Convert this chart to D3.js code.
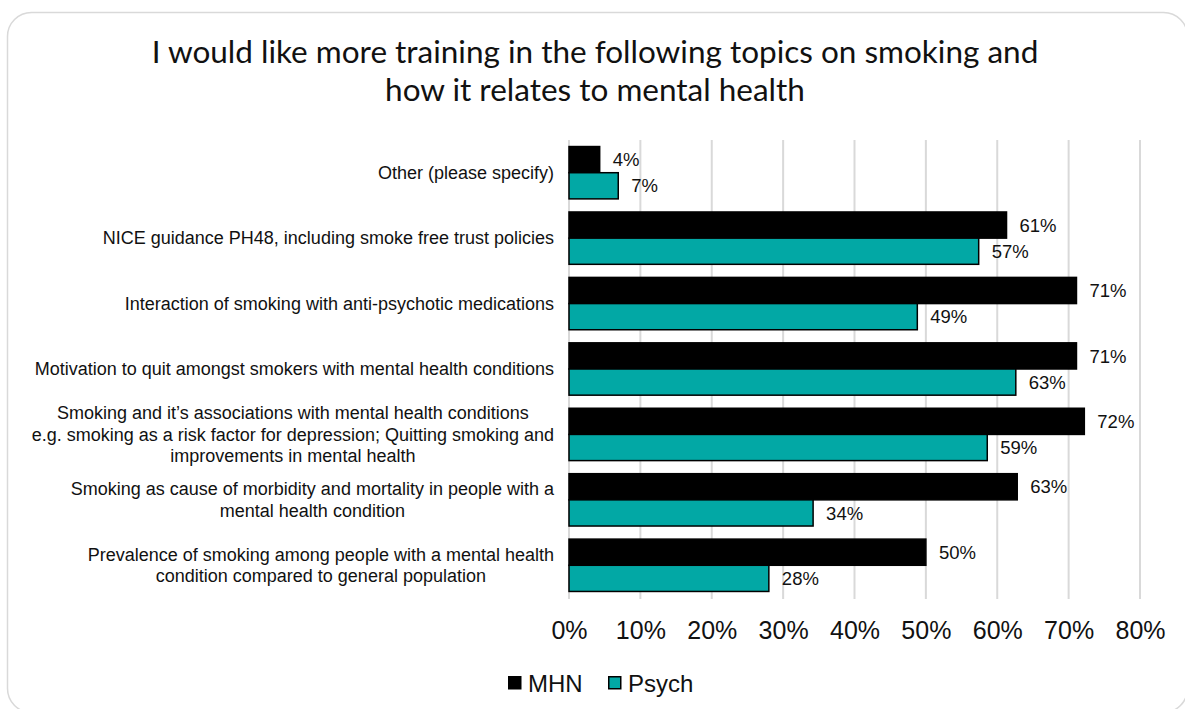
<!DOCTYPE html>
<html>
<head>
<meta charset="utf-8">
<script src="https://cdn.jsdelivr.net/npm/d3@7"></script>
<style>
  html, body { margin: 0; padding: 0; background: #fff; }
  svg { display: block; }
</style>
</head>
<body>
<svg id="chart" width="1185" height="709"></svg>
<script>
// Survey topics, listed top to bottom
const categories = [
  "Other (please specify)",
  "NICE guidance PH48, including smoke free trust policies",
  "Interaction of smoking with anti-psychotic medications",
  "Motivation to quit amongst smokers with mental health conditions",
  "Smoking and it\u2019s associations with mental health conditions\ne.g. smoking as a risk factor for depression; Quitting smoking and\nimprovements in mental health",
  "Smoking as cause of morbidity and mortality in people with a\nmental health condition",
  "Prevalence of smoking among people with a mental health\ncondition compared to general population"
];
const seriesNames = ["MHN", "Psych"];
const mhnValues = [0.043, 0.613, 0.711, 0.711, 0.722, 0.628, 0.500];
const psychValues = [0.069, 0.574, 0.488, 0.626, 0.586, 0.342, 0.280];
const tickValues = [0, 0.1, 0.2, 0.3, 0.4, 0.5, 0.6, 0.7, 0.8];
const titleLines = [
  "I would like more training in the following topics on smoking and",
  "how it relates to mental health"
];

const colors = { MHN: "#000000", Psych: "#02A8A5" };
const svg = d3.select("#chart");
const bodyFont = "'Liberation Sans', Arial, sans-serif";

// Rounded frame
svg.append("rect")
  .attr("x", 7.5).attr("y", 12.5)
  .attr("width", 1180).attr("height", 700)
  .attr("rx", 24).attr("ry", 24)
  .attr("fill", "#fff").attr("stroke", "#d9d9d9").attr("stroke-width", 1.5);

// Title
const title = svg.append("text")
  .attr("font-family", "Lato, 'Open Sans', sans-serif")
  .attr("font-size", 31.5)
  .attr("fill", "#111")
  .attr("text-anchor", "middle");
titleLines.forEach((t, i) => {
  title.append("tspan").attr("x", 595).attr("y", 63 + i * 38).text(t);
});

const x = d3.scaleLinear().domain([0, 0.8]).range([569, 1140]);
const y = d3.scaleBand().domain(categories).range([140, 598]).paddingInner(0.2).paddingOuter(0.1);
const ySub = d3.scaleBand().domain(seriesNames).range([0, y.bandwidth()]);

// Gridlines
svg.append("g").selectAll("line")
  .data(tickValues)
  .join("line")
  .attr("x1", d => x(d)).attr("x2", d => x(d))
  .attr("y1", 140).attr("y2", 599)
  .attr("stroke", "#d9d9d9").attr("stroke-width", 2);

// Axis tick labels
const xAxis = d3.axisBottom(x).tickValues(tickValues).tickFormat(d3.format(".0%")).tickSize(0).tickPadding(0);
const gx = svg.append("g").attr("transform", "translate(0,630)").call(xAxis);
gx.select(".domain").remove();
gx.selectAll("text")
  .attr("font-family", bodyFont)
  .attr("font-size", 25)
  .attr("fill", "#111")
  .attr("y", 0)
  .attr("dy", "0.36em");

// Bars
const rows = categories.map((c, i) => ({ cat: c, MHN: mhnValues[i], Psych: psychValues[i] }));
const groups = svg.append("g").selectAll("g")
  .data(rows)
  .join("g")
  .attr("transform", d => `translate(0,${y(d.cat)})`);

groups.selectAll("rect")
  .data(d => seriesNames.map(s => ({ s, v: d[s] })))
  .join("rect")
  .attr("x", x(0))
  .attr("y", d => ySub(d.s))
  .attr("width", d => x(d.v) - x(0))
  .attr("height", ySub.bandwidth())
  .attr("fill", d => colors[d.s])
  .attr("stroke", "#000").attr("stroke-width", 1.5);

groups.selectAll("text.val")
  .data(d => seriesNames.map(s => ({ s, v: d[s] })))
  .join("text")
  .attr("class", "val")
  .attr("x", d => x(d.v) + 13)
  .attr("y", d => ySub(d.s) + ySub.bandwidth() / 2)
  .attr("dy", "0.36em")
  .attr("font-family", bodyFont)
  .attr("font-size", 18.5)
  .attr("fill", "#111")
  .text(d => d3.format(".0%")(Math.round(d.v * 100) / 100));

// Category labels: multi-line, centered block, right edge aligned
const labelRight = 554;
const lineH = 21.5;
rows.forEach(r => {
  const lines = r.cat.split("\n");
  const cy = y(r.cat) + y.bandwidth() / 2;
  const t = svg.append("text")
    .attr("font-family", bodyFont)
    .attr("font-size", 18)
    .attr("fill", "#111")
    .attr("text-anchor", "middle");
  const spans = lines.map((ln, i) => t.append("tspan")
    .attr("y", cy + (i - (lines.length - 1) / 2) * lineH)
    .attr("dy", "0.35em")
    .text(ln));
  const maxW = d3.max(spans, s => s.node().getComputedTextLength());
  spans.forEach(s => s.attr("x", labelRight - maxW / 2));
});

// Legend
const legend = svg.append("g").attr("transform", "translate(508,676)");
const legendItems = [
  { s: "MHN", x: 0 },
  { s: "Psych", x: 100 }
];
legendItems.forEach(it => {
  legend.append("rect")
    .attr("x", it.x + 0.75).attr("y", 0.75)
    .attr("width", 12).attr("height", 12)
    .attr("fill", colors[it.s]).attr("stroke", "#000").attr("stroke-width", 1.5);
  legend.append("text")
    .attr("x", it.x + 20).attr("y", 7)
    .attr("dy", "0.36em")
    .attr("font-family", bodyFont)
    .attr("font-size", 24)
    .attr("fill", "#111")
    .text(it.s);
});
</script>
</body>
</html>
